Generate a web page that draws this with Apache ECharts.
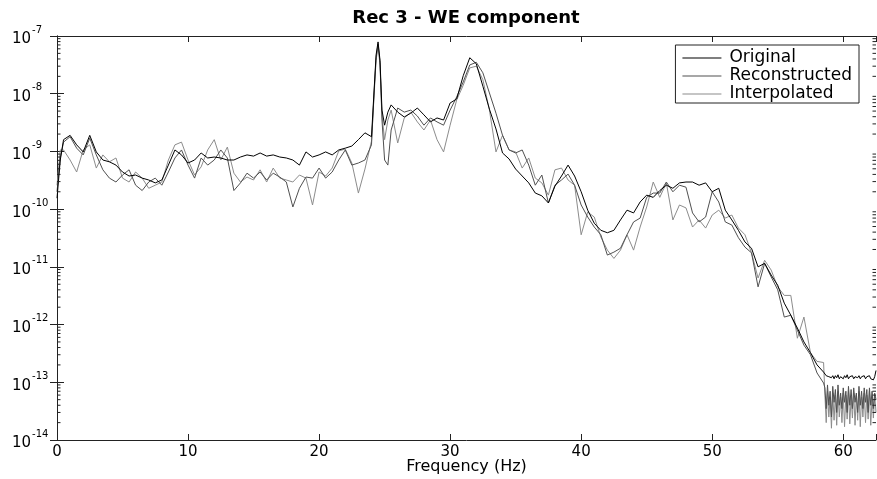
<!DOCTYPE html>
<html>
<head>
<meta charset="utf-8">
<script src="https://cdn.jsdelivr.net/npm/echarts@6/dist/echarts.min.js"></script>
<style>
html,body{margin:0;padding:0;background:#fff;overflow:hidden;}
#chart{width:877px;height:479px;}
</style>
</head>
<body>
<div id="chart"></div>
<script>
// ---------------- DATA ----------------
const titleText = 'Rec 3 - WE component';
const xAxisName = 'Frequency (Hz)';
const seriesNames = ['Original', 'Reconstructed', 'Interpolated'];

// frequency grid (Hz)
const freq = [
  0, 0.25, 0.5, 1, 1.5, 2, 2.5, 3, 3.5, 4, 4.5,
  5, 5.5, 6, 6.5, 7, 7.5, 8, 8.5, 9, 9.5,
  10, 10.5, 11, 11.5, 12, 12.5, 13, 13.5, 14, 14.5,
  15, 15.5, 16, 16.5, 17, 17.5, 18, 18.5, 19, 19.5,
  20, 20.5, 21, 21.5, 22, 22.5, 23, 23.5, 24, 24.2, 24.35, 24.5, 24.65, 24.8,
  25, 25.25, 25.5, 26, 26.5, 27, 27.5, 28, 28.5, 29, 29.5,
  30, 30.5, 31, 31.5, 32, 32.5, 33, 33.5, 34, 34.5,
  35, 35.5, 36, 36.5, 37, 37.5, 38, 38.5, 39, 39.5,
  40, 40.5, 41, 41.5, 42, 42.5, 43, 43.5, 44, 44.5,
  45, 45.5, 46, 46.5, 47, 47.5, 48, 48.5, 49, 49.5,
  50, 50.5, 51, 51.5, 52, 52.5, 53, 53.5, 54, 54.5,
  55, 55.5, 56, 56.5, 57, 57.5, 58, 58.5
];
const freqTail = [
  58.6, 58.7, 58.8, 58.9, 59.0, 59.1, 59.2, 59.3, 59.4, 59.5,
  59.6, 59.7, 59.8, 59.9, 60.0, 60.1, 60.2, 60.3, 60.4, 60.5,
  60.6, 60.7, 60.8, 60.9, 61.0, 61.1, 61.2, 61.3, 61.4, 61.5,
  61.6, 61.7, 61.8, 61.9, 62.0, 62.1, 62.2, 62.3, 62.4, 62.5
];

const original = [
  1.55e-10, 7.1e-10, 1.6e-9, 1.9e-9, 1.3e-9, 9.8e-10, 1.9e-9, 9.8e-10, 7.1e-10, 6.6e-10, 5.8e-10,
  4.4e-10, 3.75e-10, 3.9e-10, 3.45e-10, 3.2e-10, 2.85e-10, 3.2e-10, 5.8e-10, 1.06e-9, 8.7e-10,
  6.3e-10, 7.1e-10, 9.4e-10, 7.7e-10, 8.0e-10, 7.7e-10, 7.1e-10, 7.1e-10, 8.0e-10, 8.7e-10,
  8.3e-10, 9.4e-10, 8.3e-10, 8.7e-10, 8.0e-10, 7.7e-10, 7.1e-10, 5.8e-10, 9.8e-10, 8.0e-10,
  8.7e-10, 9.8e-10, 8.7e-10, 1.06e-9, 1.14e-9, 1.24e-9, 1.6e-9, 2.1e-9, 1.8e-9, 1.16e-8, 4.7e-8, 7.9e-8, 3.8e-8, 5.2e-9,
  2.85e-9, 4.8e-9, 6.4e-9, 4.8e-9, 3.95e-9, 4.6e-9, 5.65e-9, 4.3e-9, 3.25e-9, 3.8e-9, 3.5e-9,
  6.9e-9, 8.1e-9, 2.05e-8, 4.2e-8, 3.3e-8, 1.35e-8, 5.4e-9, 2.45e-9, 9.4e-10, 7.4e-10,
  4.95e-10, 3.75e-10, 2.85e-10, 1.9e-10, 1.7e-10, 1.28e-10, 2.5e-10, 3.75e-10, 5.8e-10, 3.75e-10,
  2.0e-10, 9.6e-11, 5.7e-11, 4.3e-11, 3.9e-11, 4.3e-11, 6.5e-11, 9.6e-11, 8.6e-11, 1.33e-10,
  1.75e-10, 1.6e-10, 2.1e-10, 2.6e-10, 2.3e-10, 2.85e-10, 2.95e-10, 2.95e-10, 2.6e-10, 2.85e-10,
  2.0e-10, 2.3e-10, 9.6e-11, 6.5e-11, 4.3e-11, 2.7e-11, 2.1e-11, 1.0e-11, 1.15e-11, 7.2e-12,
  4.8e-12, 2.35e-12, 1.45e-12, 8.7e-13, 5.0e-13, 3.25e-13, 2.0e-13, 1.5e-13
];
const originalTail = [
  1.45e-13, 1.3e-13, 1.4e-13, 1.25e-13, 1.35e-13, 1.2e-13, 1.3e-13, 1.15e-13, 1.3e-13, 1.2e-13,
  1.35e-13, 1.15e-13, 1.25e-13, 1.3e-13, 1.15e-13, 1.3e-13, 1.2e-13, 1.35e-13, 1.15e-13, 1.25e-13,
  1.2e-13, 1.3e-13, 1.15e-13, 1.25e-13, 1.35e-13, 1.2e-13, 1.3e-13, 1.15e-13, 1.25e-13, 1.2e-13,
  1.3e-13, 1.15e-13, 1.25e-13, 1.2e-13, 1.3e-13, 1.15e-13, 1.2e-13, 1.1e-13, 1.25e-13, 1.6e-13
];

const reconstructed = [
  2.0e-10, 7.7e-10, 1.45e-9, 1.8e-9, 1.14e-9, 8.7e-10, 1.7e-9, 8.7e-10, 4.8e-10, 3.45e-10, 2.95e-10,
  3.9e-10, 4.8e-10, 2.6e-10, 2.1e-10, 2.95e-10, 3.45e-10, 2.6e-10, 4.4e-10, 7.7e-10, 1.06e-9,
  5.8e-10, 3.45e-10, 7.7e-10, 5.8e-10, 7.1e-10, 1.06e-9, 7.7e-10, 2.1e-10, 2.85e-10, 4.2e-10,
  3.45e-10, 4.4e-10, 3.2e-10, 4.2e-10, 3.6e-10, 2.95e-10, 1.09e-10, 2.3e-10, 3.6e-10, 3.45e-10,
  5.15e-10, 3.45e-10, 4.4e-10, 7.1e-10, 1.06e-9, 5.8e-10, 6.3e-10, 7.1e-10, 1.3e-9, 1.07e-8, 4.2e-8, 7.3e-8, 3.5e-8, 3.5e-9,
  7.1e-10, 5.8e-10, 2.35e-9, 5.65e-9, 4.8e-9, 5.2e-9, 4.1e-9, 2.85e-9, 3.8e-9, 3.25e-9, 2.85e-9,
  5.2e-9, 8.8e-9, 1.6e-8, 3.15e-8, 3.5e-8, 2.3e-8, 1.03e-8, 4.6e-9, 1.9e-9, 1.06e-9,
  9.4e-10, 1.06e-9, 5.8e-10, 2.6e-10, 3.9e-10, 1.28e-10, 2.6e-10, 3.2e-10, 4.05e-10, 2.6e-10,
  1.18e-10, 7.3e-11, 4.9e-11, 3.6e-11, 1.6e-11, 1.8e-11, 2.1e-11, 3.6e-11, 6.0e-11, 7.0e-11,
  1.6e-10, 1.9e-10, 1.9e-10, 2.95e-10, 2.0e-10, 2.6e-10, 2.4e-10, 8.6e-11, 6.0e-11, 7.3e-11,
  2.0e-10, 1.33e-10, 6.0e-11, 5.3e-11, 3.2e-11, 2.2e-11, 1.75e-11, 4.5e-12, 1.15e-11, 6.7e-12,
  4.0e-12, 1.35e-12, 1.45e-12, 8.0e-13, 4.4e-13, 3.0e-13, 1.45e-13, 9.7e-14
];
const reconstructedTail = [
  8e-14, 3.5e-14, 9e-14, 4e-14, 7e-14, 2.5e-14, 8.5e-14, 4.5e-14, 7.5e-14, 3e-14,
  9e-14, 4e-14, 6.5e-14, 3.5e-14, 8e-14, 4.5e-14, 7e-14, 3e-14, 8.5e-14, 4e-14,
  7.5e-14, 3.5e-14, 8e-14, 4.5e-14, 6.5e-14, 3e-14, 8.5e-14, 4e-14, 7e-14, 3.5e-14,
  8e-14, 4.5e-14, 7.5e-14, 3e-14, 8e-14, 4e-14, 7e-14, 3.5e-14, 6.5e-14, 5e-14
];

const interpolated = [
  2.6e-10, 1.06e-9, 1.06e-9, 7.1e-10, 4.4e-10, 1.06e-9, 1.3e-9, 5.15e-10, 8.7e-10, 6.6e-10, 7.7e-10,
  3.45e-10, 2.95e-10, 4.4e-10, 3.45e-10, 2.3e-10, 2.6e-10, 2.95e-10, 7.1e-10, 1.3e-9, 1.45e-9,
  7.1e-10, 3.9e-10, 5.4e-10, 1.06e-9, 1.6e-9, 7.1e-10, 1.19e-9, 4.2e-10, 2.95e-10, 3.6e-10,
  3.2e-10, 4.8e-10, 2.95e-10, 5.15e-10, 3.45e-10, 3.2e-10, 2.95e-10, 3.9e-10, 3.45e-10, 1.18e-10,
  4.4e-10, 3.75e-10, 5.15e-10, 1.02e-9, 1.1e-9, 6.3e-10, 1.9e-10, 4.95e-10, 1.51e-9, 9.5e-9, 3.8e-8, 6.5e-8, 3.15e-8, 4.3e-9,
  1.6e-9, 3.5e-9, 5.2e-9, 1.4e-9, 3.8e-9, 4.8e-9, 3.25e-9, 2.35e-9, 3.5e-9, 1.6e-9, 9.8e-10,
  2.85e-9, 7.8e-9, 1.4e-8, 2.8e-8, 3.0e-8, 1.75e-8, 5.2e-9, 9.8e-10, 1.9e-9, 1.06e-9,
  9.8e-10, 5.15e-10, 7.7e-10, 3.45e-10, 2.85e-10, 1.75e-10, 4.8e-10, 5.15e-10, 3.2e-10, 2.6e-10,
  3.6e-11, 8.9e-11, 7.3e-11, 3.3e-11, 1.95e-11, 1.4e-11, 1.95e-11, 3.6e-11, 1.95e-11, 4.9e-11,
  1.09e-10, 2.95e-10, 1.6e-10, 2.85e-10, 6.5e-11, 1.18e-10, 1.05e-10, 4.9e-11, 6.5e-11, 4.7e-11,
  7.9e-11, 9.6e-11, 7.0e-11, 7.9e-11, 4.7e-11, 3.6e-11, 1.75e-11, 6.4e-12, 1.3e-11, 8.8e-12,
  4.5e-12, 3.2e-12, 3.2e-12, 5.8e-13, 1.35e-12, 3.25e-13, 2.3e-13, 2.2e-13
];
const interpolatedTail = [
  6e-14, 2e-14, 7e-14, 2.5e-14, 5.5e-14, 1.6e-14, 6.5e-14, 2.2e-14, 6e-14, 1.8e-14,
  7e-14, 2.5e-14, 5.5e-14, 2e-14, 6.5e-14, 1.7e-14, 6e-14, 2.3e-14, 7e-14, 1.9e-14,
  5.5e-14, 2.4e-14, 6.5e-14, 1.8e-14, 6e-14, 2.2e-14, 7e-14, 1.7e-14, 5.5e-14, 2.5e-14,
  6.5e-14, 2e-14, 6e-14, 2.3e-14, 7e-14, 1.8e-14, 5.5e-14, 2.4e-14, 6e-14, 3e-14
];

// axis ranges
const xMin = 0, xMax = 62.5, xStep = 10;
const yMin = 1e-14, yMax = 1e-7;

// ---------------- BUILD ----------------
const allFreq = freq.concat(freqTail);
function pairs(vals) { return allFreq.map((f, i) => [f, vals[i]]); }

const FONT = 'DejaVu Sans';
const AXC = '#222';

// log minor ticks (2..9 x 10^n) – decoration only
const minorTickValues = [];
for (let e = -14; e < -7; e++) {
  for (let k = 2; k <= 9; k++) minorTickValues.push(k * Math.pow(10, e));
}

const chart = echarts.init(document.getElementById('chart'), null, { renderer: 'canvas' });

const lineColors = ['#000000', '#505050', '#8c8c8c'];

const option = {
  animation: false,
  backgroundColor: '#ffffff',
  grid: { left: 57, right: 1, top: 36, bottom: 39, containLabel: false, outerBoundsMode: 'none' },
  graphic: [{
    type: 'text', x: 466, y: 18, z: 10,
    style: {
      text: titleText, fontFamily: FONT, fontSize: 18, fontWeight: 'bold', fill: '#000',
      align: 'center', verticalAlign: 'middle', textAlign: 'center', textVerticalAlign: 'middle'
    }
  }],
  legend: {
    data: seriesNames, orient: 'vertical', right: 18, top: 45,
    padding: [4, 7, 0, 7], itemGap: 0, itemWidth: 39, itemHeight: 1, icon: 'rect',
    borderColor: AXC, borderWidth: 1, borderRadius: 0, backgroundColor: '#fff',
    selectedMode: false,
    textStyle: { fontFamily: FONT, fontSize: 17, color: '#000', lineHeight: 18, padding: [0, 0, 0, 3] }
  },
  xAxis: [{
    type: 'value', min: xMin, max: xMax, interval: xStep, position: 'bottom',
    name: xAxisName, nameLocation: 'middle', nameGap: 19, nameMoveOverlap: false,
    nameTextStyle: { fontFamily: FONT, fontSize: 16, color: '#000' },
    axisLine: { show: true, lineStyle: { color: AXC, width: 1 } },
    axisTick: { show: true, inside: true, length: 6, lineStyle: { color: AXC } },
    splitLine: { show: false },
    axisLabel: {
      fontFamily: FONT, fontSize: 15, color: '#000', margin: 5,
      formatter: v => (Math.abs(v % xStep) < 1e-9 ? String(v) : '')
    }
  }, {
    type: 'value', min: xMin, max: xMax, interval: xStep, position: 'top',
    axisLine: { show: true, lineStyle: { color: AXC, width: 1 } },
    axisTick: { show: true, inside: true, length: 6, lineStyle: { color: AXC } },
    splitLine: { show: false }, axisLabel: { show: false }
  }],
  yAxis: [{
    type: 'log', logBase: 10, min: yMin, max: yMax, splitNumber: 7, position: 'left',
    axisLine: { show: true, lineStyle: { color: AXC, width: 1 } },
    axisTick: { show: true, inside: true, length: 7, lineStyle: { color: AXC } },
    splitLine: { show: false },
    axisLabel: {
      align: 'left', margin: 45,
      formatter: v => '{b|10}{s|' + Math.round(Math.log10(v)) + '}',
      rich: {
        b: { fontFamily: FONT, fontSize: 15, color: '#000', lineHeight: 22, verticalAlign: 'bottom' },
        s: { fontFamily: FONT, fontSize: 10, color: '#000', lineHeight: 12, verticalAlign: 'top', padding: [0, 0, 0, 1] }
      }
    }
  }, {
    type: 'log', logBase: 10, min: yMin, max: yMax, splitNumber: 7, position: 'right',
    axisLine: { show: true, lineStyle: { color: AXC, width: 1 } },
    axisTick: { show: true, inside: true, length: 7, lineStyle: { color: AXC } },
    splitLine: { show: false }, axisLabel: { show: false }
  }],
  series: [
    {
      name: seriesNames[2], type: 'line', data: pairs(interpolated.concat(interpolatedTail)),
      symbol: 'none', showSymbol: false, z: 2, color: lineColors[2],
      lineStyle: { color: lineColors[2], width: 1 }
    },
    {
      name: seriesNames[1], type: 'line', data: pairs(reconstructed.concat(reconstructedTail)),
      symbol: 'none', showSymbol: false, z: 3, color: lineColors[1],
      lineStyle: { color: lineColors[1], width: 1 }
    },
    {
      name: seriesNames[0], type: 'line', data: pairs(original.concat(originalTail)),
      symbol: 'none', showSymbol: false, z: 4, color: lineColors[0],
      lineStyle: { color: lineColors[0], width: 1 }
    },
    {
      name: 'minorTicks', type: 'custom', silent: true, z: 5, clip: false,
      data: minorTickValues.map(v => [xMin, v]),
      encode: { x: 0, y: 1 },
      renderItem: function (params, api) {
        const l = api.coord([xMin, api.value(1)]);
        const r = api.coord([xMax, api.value(1)]);
        return {
          type: 'group',
          children: [
            { type: 'line', shape: { x1: l[0], y1: l[1], x2: l[0] + 3.5, y2: l[1] }, style: { stroke: AXC, lineWidth: 1 } },
            { type: 'line', shape: { x1: r[0], y1: r[1], x2: r[0] - 3.5, y2: r[1] }, style: { stroke: AXC, lineWidth: 1 } }
          ]
        };
      }
    }
  ]
};
chart.setOption(option);
</script>
</body>
</html>
